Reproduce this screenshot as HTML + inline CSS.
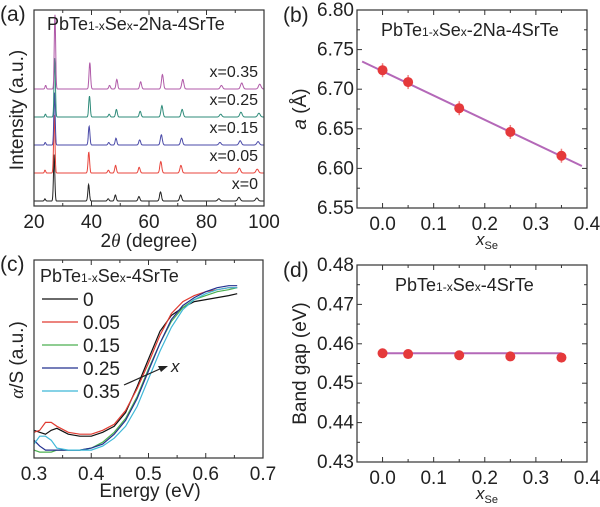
<!DOCTYPE html>
<html><head><meta charset="utf-8"><style>
html,body{margin:0;padding:0;background:#fff;}
svg{display:block;font-family:"Liberation Sans",sans-serif;}
</style></head><body>
<svg id="fig" width="600" height="507" viewBox="0 0 600 507" xmlns="http://www.w3.org/2000/svg">
<g id="ga"></g>
<g id="gb"></g>
<g id="gc"></g>
<g id="gd"></g>
</svg>
<script>
// ---- Panel (a) data: XRD ----
const xrdSamples = ["x=0","x=0.05","x=0.15","x=0.25","x=0.35"];
const xrdColors = ["#222222","#e8453c","#4a4aa8","#2e8b7a","#b05aa8"];
const xrdXvals = [0,0.05,0.15,0.25,0.35];
const xrdPeakPos = [23.8,27.0,39.0,45.8,48.3,56.5,64.0,71.0,84.3,91.3,97.5];
const xrdPeakInt = [3,62,22,3,8,6,12,8,3,5,4];
const xrdScale = [0.75,0.95,0.85,0.95,1.2];
const xrdOffset = [0,28,56,84,112];
const xrdXTicks = [20,40,60,80,100];
// ---- Panel (b) data ----
const bX = [0,0.05,0.15,0.25,0.35];
const bA = [6.724,6.709,6.676,6.646,6.616];
const bFitX = [-0.04,0.39];
const bFitY = [6.735,6.603];
const bYTicks = [6.55,6.60,6.65,6.70,6.75,6.80];
const bXTicks = [0.0,0.1,0.2,0.3,0.4];
// ---- Panel (c) data ----
const cLabels = ["0","0.05","0.15","0.25","0.35"];
const cColors = ["#111111","#e03a30","#4caf50","#23308f","#3fb8d8"];
const cE = [0.30,0.31,0.32,0.33,0.34,0.36,0.38,0.40,0.42,0.44,0.46,0.48,0.50,0.52,0.54,0.56,0.58,0.60,0.62,0.64,0.655];
const cS0 = [0.14,0.13,0.12,0.14,0.15,0.12,0.11,0.11,0.13,0.16,0.23,0.36,0.50,0.64,0.72,0.76,0.79,0.80,0.81,0.82,0.83];
const cS1 = [0.13,0.14,0.18,0.18,0.16,0.13,0.12,0.12,0.14,0.17,0.24,0.35,0.48,0.62,0.73,0.79,0.82,0.84,0.85,0.86,0.86];
const cS2 = [0.04,0.03,0.03,0.03,0.04,0.04,0.04,0.05,0.08,0.13,0.20,0.31,0.45,0.58,0.69,0.76,0.80,0.82,0.84,0.85,0.86];
const cS3 = [0.09,0.06,0.04,0.04,0.04,0.04,0.04,0.05,0.07,0.12,0.19,0.30,0.44,0.58,0.70,0.77,0.81,0.84,0.86,0.87,0.87];
const cS4 = [0.07,0.11,0.11,0.09,0.05,0.04,0.04,0.04,0.06,0.10,0.16,0.26,0.40,0.54,0.66,0.75,0.80,0.83,0.85,0.86,0.86];
const cXTicks = [0.3,0.4,0.5,0.6,0.7];
// ---- Panel (d) data ----
const dX = [0,0.05,0.15,0.25,0.35];
const dGap = [0.4576,0.4574,0.4571,0.4568,0.4565];
const dFitX = [0,0.35];
const dFitY = [0.4576,0.4576];
const dYTicks = [0.43,0.44,0.45,0.46,0.47,0.48];
const dXTicks = [0.0,0.1,0.2,0.3,0.4];

const NS="http://www.w3.org/2000/svg";
function mk(parent,tag,attrs,text){const e=document.createElementNS(NS,tag);for(const k in attrs)e.setAttribute(k,attrs[k]);if(text!==undefined)e.textContent=text;parent.appendChild(e);return e;}
function lin(d0,d1,r0,r1){return v=>r0+(v-d0)/(d1-d0)*(r1-r0);}

function frame(g,x0,y0,x1,y1,xt,xs,yt,ys,fmtX,fmtY){
  const r=mk(g,'rect',{x:x0,y:y0,width:x1-x0,height:y1-y0,fill:'none',stroke:'#333','stroke-width':1.2});
  
  
  xt.forEach((t,i)=>{const px=xs(t);
    mk(g,'line',{x1:px,y1:y1,x2:px,y2:y1-5,stroke:'#333'});mk(g,'line',{x1:px,y1:y0,x2:px,y2:y0+5,stroke:'#333'});
    if(i<xt.length-1){const m=xs(t+(xt[1]-xt[0])/2);mk(g,'line',{x1:m,y1:y1,x2:m,y2:y1-3,stroke:'#333'});mk(g,'line',{x1:m,y1:y0,x2:m,y2:y0+3,stroke:'#333'});}
    const tx=mk(g,'text',{x:px,y:y1+22,'font-size':19,'text-anchor':'middle',fill:'#222'},fmtX(t));
    
    
  });
  if(yt){yt.forEach((t,i)=>{const py=ys(t);
    mk(g,'line',{x1:x0,y1:py,x2:x0+5,y2:py,stroke:'#333'});mk(g,'line',{x1:x1,y1:py,x2:x1-5,y2:py,stroke:'#333'});
    if(i<yt.length-1){const m=ys(t+(yt[1]-yt[0])/2);mk(g,'line',{x1:x0,y1:m,x2:x0+3,y2:m,stroke:'#333'});mk(g,'line',{x1:x1,y1:m,x2:x1-3,y2:m,stroke:'#333'});}
    const tx=mk(g,'text',{x:x0-3,y:py+6,'font-size':19,'text-anchor':'end',fill:'#222'},fmtY(t));
    
    
  });}
}
function title(g,x,y,tail,name){
  const t=mk(g,'text',{x:x,y:y,'font-size':18,fill:'#222'});
  
  
  mk(t,'tspan',{},'PbTe');mk(t,'tspan',{'font-size':12},'1-x');mk(t,'tspan',{},'Se');mk(t,'tspan',{'font-size':12},'x');mk(t,'tspan',{},tail);
}
function plab(g,x,y,s){const t=mk(g,'text',{x:x,y:y,'font-size':21,fill:'#222'},s);
  
  }

// ---- (a) ----
(function(){
 const g=document.getElementById('ga');
 const X0=34,X1=264,Y0=10,Y1=206;
 const xs=lin(20,100,X0,X1);
 const clip=mk(g,'clipPath',{id:'ca'});mk(clip,'rect',{x:X0,y:Y0,width:X1-X0,height:Y1-Y0});
 const cg=mk(g,'g',{'clip-path':'url(#ca)'});
 xrdSamples.forEach((s,si)=>{
   const base=201-xrdOffset[si];
   let pts=[];
   for(let a=20;a<=100.001;a+=0.1){
     let v=0;
     xrdPeakPos.forEach((p,pi)=>{const c=p+xrdXvals[si]*p*0.03;const w=0.22+p*0.004;const d=(a-c)/w;v+=xrdPeakInt[pi]*xrdScale[si]*Math.exp(-d*d);});
     pts.push(xs(a).toFixed(1)+','+(base-v).toFixed(1));
   }
   const pl=mk(cg,'polyline',{points:pts.join(' '),fill:'none',stroke:xrdColors[si],'stroke-width':1});
   
   
   const t=mk(g,'text',{x:258,y:base-12,'font-size':16,'text-anchor':'end',fill:'#222'},s);
   
   
 });
 frame(g,X0,Y0,X1,Y1,xrdXTicks,xs,null,null,t=>String(t),null);
 title(g,47,30,'-2Na-4SrTe','panel-a-title');
 const yl=mk(g,'text',{x:0,y:0,'font-size':19,'text-anchor':'middle',fill:'#222',transform:'translate(23,110) rotate(-90)'},'Intensity (a.u.)');
 
 
 const xl=mk(g,'text',{x:149,y:247,'font-size':19,'text-anchor':'middle',fill:'#222'});
 
 
 mk(xl,'tspan',{},'2');mk(xl,'tspan',{'font-style':'italic','font-family':'Liberation Serif'},'θ');mk(xl,'tspan',{},' (degree)');
 plab(g,0,21,'(a)');
})();

function scatterPanel(g,Y0,Y1,yd0,yd1,xv,yv,fx,fy,yt,fmtY,ttl,ttlx,ytitle,err,lab){
 const X0=357,X1=587;
 const xs=lin(-0.05,0.4,X0,X1), ys=lin(yd0,yd1,Y1,Y0);
 frame(g,X0,Y0,X1,Y1,bXTicks,xs,yt,ys,t=>t.toFixed(1),fmtY);
 const fl=mk(g,'line',{x1:xs(fx[0]),y1:ys(fy[0]),x2:xs(fx[1]),y2:ys(fy[1]),stroke:'#b468b8','stroke-width':2});
 
 
 xv.forEach((x,i)=>{
   if(err){mk(g,'line',{x1:xs(x),y1:ys(yv[i])-7,x2:xs(x),y2:ys(yv[i])+7,stroke:'#f08080','stroke-width':1.5});}
   const c=mk(g,'circle',{cx:xs(x),cy:ys(yv[i]),r:5,fill:'#e5393b'});
   
   
 });
 title(g,ttlx,Y0+26,ttl,'panel-title');
 const yl=mk(g,'text',{x:0,y:0,'font-size':19,'text-anchor':'middle',fill:'#222',transform:'translate(306,'+((Y0+Y1)/2)+') rotate(-90)'});
 
 
 ytitle(yl);
 const xl=mk(g,'text',{x:476,y:Y1+37,'font-size':17,fill:'#222'});
 
 
 mk(xl,'tspan',{'font-style':'italic'},'x');mk(xl,'tspan',{'font-size':11,dy:4},'Se');
 plab(g,283,Y0+12,lab);
}
scatterPanel(document.getElementById('gb'),10,208,6.55,6.80,bX,bA,bFitX,bFitY,bYTicks,t=>t.toFixed(2),'-2Na-4SrTe',381,
  t=>{mk(t,'tspan',{'font-style':'italic'},'a');mk(t,'tspan',{},' (Å)');},true,'(b)');
scatterPanel(document.getElementById('gd'),265,462,0.43,0.48,dX,dGap,dFitX,dFitY,dYTicks,t=>t.toFixed(2),'-4SrTe',395,
  t=>{t.textContent='Band gap (eV)';},false,'(d)');

// ---- (c) ----
(function(){
 const g=document.getElementById('gc');
 const X0=34,X1=263,Y0=260,Y1=458;
 const xs=lin(0.3,0.7,X0,X1), ys=lin(0,1,Y1,Y0);
 const series=[cS0,cS1,cS2,cS3,cS4];
 series.forEach((s,si)=>{
   const pts=cE.map((e,i)=>xs(e).toFixed(1)+','+ys(s[i]).toFixed(1)).join(' ');
   const pl=mk(g,'polyline',{points:pts,fill:'none',stroke:cColors[si],'stroke-width':1.2});
   
   
 });
 frame(g,X0,Y0,X1,Y1,cXTicks,xs,null,null,t=>t.toFixed(1),null);
 title(g,40,282,'-4SrTe','panel-c-title');
 const ly=[299,322,345,368,391];
 cLabels.forEach((l,i)=>{
   const ln=mk(g,'line',{x1:42,y1:ly[i],x2:78,y2:ly[i],stroke:cColors[i],'stroke-width':1.3});
   
   
   const t=mk(g,'text',{x:83,y:ly[i]+7,'font-size':19,fill:'#222'},l);
   
   
 });
 const ar=mk(g,'line',{x1:124,y1:385,x2:162,y2:368,stroke:'#222','stroke-width':1.2});
 
 
 mk(g,'polygon',{points:'168,366 158,366 161,372',fill:'#222'});
 const ax=mk(g,'text',{x:171,y:372,'font-size':17,'font-style':'italic',fill:'#222'},'x');
 
 
 const yl=mk(g,'text',{x:0,y:0,'font-size':19,'text-anchor':'middle',fill:'#222',transform:'translate(23,360) rotate(-90)'});
 
 
 mk(yl,'tspan',{'font-style':'italic','font-family':'Liberation Serif'},'α');mk(yl,'tspan',{},'/S (a.u.)');
 const xl=mk(g,'text',{x:150,y:497,'font-size':19,'text-anchor':'middle',fill:'#222'},'Energy (eV)');
 
 
 plab(g,0,271,'(c)');
})();
</script>
</body></html>
